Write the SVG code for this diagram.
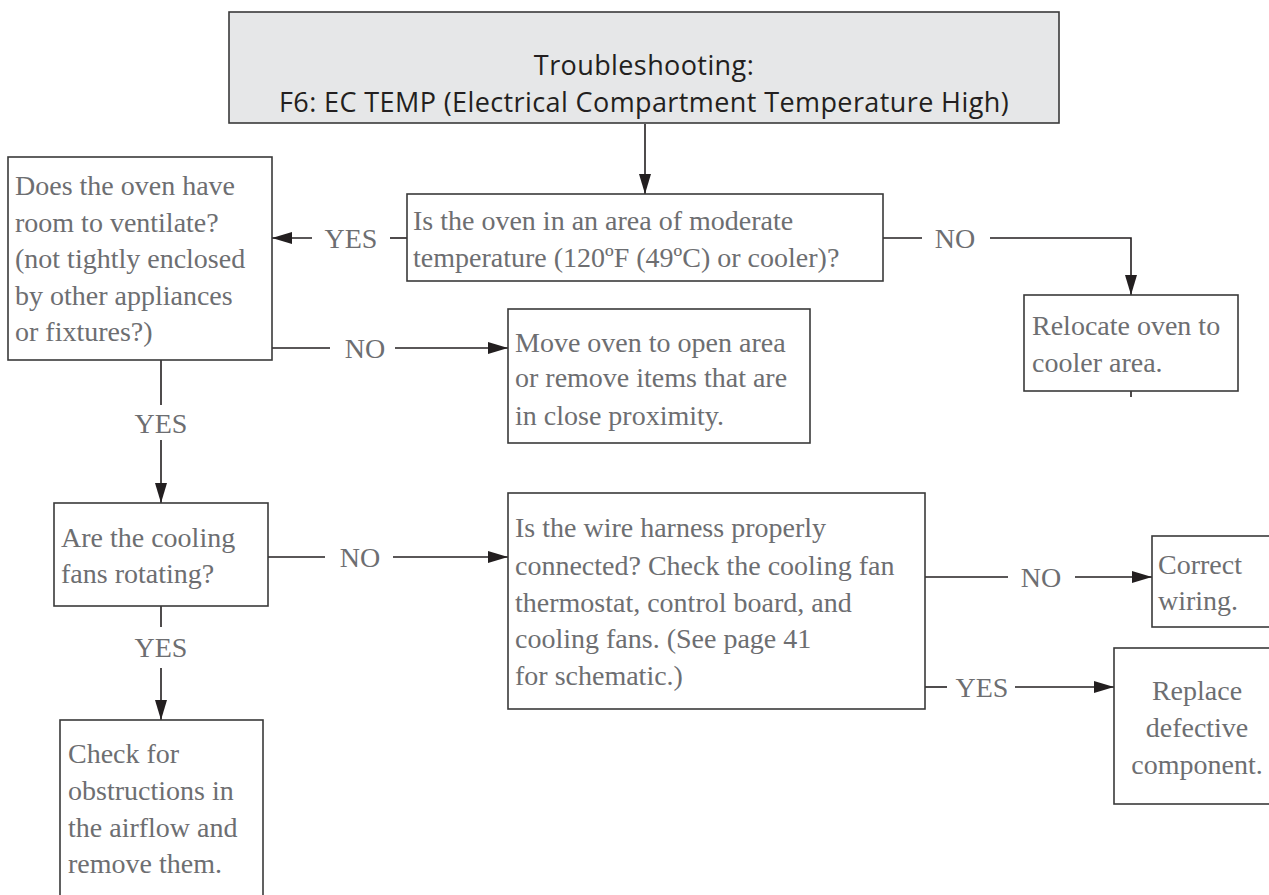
<svg xmlns="http://www.w3.org/2000/svg" width="1269" height="895" viewBox="0 0 1269 895">
<defs>
<marker id="arr" markerUnits="userSpaceOnUse" markerWidth="22" markerHeight="14" refX="20" refY="6" orient="auto">
<path d="M0,0 L20,6 L0,12 z" fill="#231f20"/>
</marker>
<style>
.box{fill:#fff;stroke:#3a3a3a;stroke-width:1.6}
.title{fill:#e6e7e8;stroke:#3a3a3a;stroke-width:1.6}
.tt{font-family:"Open Sans","Liberation Sans",sans-serif;font-size:27px;letter-spacing:0.4px;fill:#231f20;text-anchor:middle}
.t{font-family:"Liberation Serif",serif;font-size:28px;fill:#6d6e71}
.c{text-anchor:middle}
.ln{fill:none;stroke:#231f20;stroke-width:1.6}
.lb{font-family:"Liberation Serif",serif;font-size:28px;fill:#6d6e71;text-anchor:middle}
</style>
</defs>
<rect width="1269" height="895" fill="#fff"/>
<g id="connectors">
<line class="ln" x1="645" y1="124" x2="645" y2="194" marker-end="url(#arr)"/>
<line class="ln" x1="407" y1="238" x2="390" y2="238"/>
<line class="ln" x1="312" y1="238" x2="272" y2="238" marker-end="url(#arr)"/>
<text class="lb" x="351" y="248">YES</text>
<line class="ln" x1="883" y1="238" x2="922" y2="238"/>
<polyline class="ln" points="990,238 1131,238 1131,295" marker-end="url(#arr)"/>
<text class="lb" x="955" y="248">NO</text>
<line class="ln" x1="1131" y1="391" x2="1131" y2="397"/>
<line class="ln" x1="272" y1="348" x2="330" y2="348"/>
<line class="ln" x1="395" y1="348" x2="508" y2="348" marker-end="url(#arr)"/>
<text class="lb" x="365" y="358">NO</text>
<line class="ln" x1="161" y1="360" x2="161" y2="405"/>
<text class="lb" x="161" y="433">YES</text>
<line class="ln" x1="161" y1="440" x2="161" y2="503" marker-end="url(#arr)"/>
<line class="ln" x1="268" y1="557" x2="325" y2="557"/>
<line class="ln" x1="393" y1="557" x2="508" y2="557" marker-end="url(#arr)"/>
<text class="lb" x="360" y="567">NO</text>
<line class="ln" x1="161" y1="606" x2="161" y2="627"/>
<text class="lb" x="161" y="657">YES</text>
<line class="ln" x1="161" y1="668" x2="161" y2="720" marker-end="url(#arr)"/>
<line class="ln" x1="925" y1="577" x2="1008" y2="577"/>
<line class="ln" x1="1075" y1="577" x2="1152" y2="577" marker-end="url(#arr)"/>
<text class="lb" x="1041" y="587">NO</text>
<line class="ln" x1="925" y1="687" x2="947" y2="687"/>
<line class="ln" x1="1015" y1="687" x2="1114" y2="687" marker-end="url(#arr)"/>
<text class="lb" x="982" y="697">YES</text>
</g>
<g id="title">
<rect class="title" x="229" y="12" width="830" height="111"/>
<text class="tt" x="644" y="75">Troubleshooting:</text>
<text class="tt" x="644" y="112">F6: EC TEMP (Electrical Compartment Temperature High)</text>
</g>
<g id="q-moderate">
<rect class="box" x="407" y="194" width="476" height="87"/>
<text class="t" x="413" y="230">Is the oven in an area of moderate</text>
<text class="t" x="413" y="267">temperature (120ºF (49ºC) or cooler)?</text>
</g>
<g id="q-ventilate">
<rect class="box" x="8" y="157" width="264" height="203"/>
<text class="t" x="15" y="195">Does the oven have</text>
<text class="t" x="15" y="232">room to ventilate?</text>
<text class="t" x="15" y="268">(not tightly enclosed</text>
<text class="t" x="15" y="305">by other appliances</text>
<text class="t" x="15" y="341">or fixtures?)</text>
</g>
<g id="relocate">
<rect class="box" x="1024" y="295" width="214" height="96"/>
<text class="t" x="1032" y="335">Relocate oven to</text>
<text class="t" x="1032" y="372">cooler area.</text>
</g>
<g id="move">
<rect class="box" x="508" y="309" width="302" height="134"/>
<text class="t" x="515" y="352">Move oven to open area</text>
<text class="t" x="515" y="387">or remove items that are</text>
<text class="t" x="515" y="425">in close proximity.</text>
</g>
<g id="q-fans">
<rect class="box" x="54" y="503" width="214" height="103"/>
<text class="t" x="61" y="547">Are the cooling</text>
<text class="t" x="61" y="583">fans rotating?</text>
</g>
<g id="q-harness">
<rect class="box" x="508" y="493" width="417" height="216"/>
<text class="t" x="515" y="537">Is the wire harness properly</text>
<text class="t" x="515" y="575">connected? Check the cooling fan</text>
<text class="t" x="515" y="612">thermostat, control board, and</text>
<text class="t" x="515" y="648">cooling fans. (See page 41</text>
<text class="t" x="515" y="685">for schematic.)</text>
</g>
<g id="correct">
<rect class="box" x="1152" y="536" width="130" height="91"/>
<text class="t" x="1158" y="574">Correct</text>
<text class="t" x="1158" y="610">wiring.</text>
</g>
<g id="replace">
<rect class="box" x="1114" y="648" width="170" height="156"/>
<text class="t c" x="1197" y="700">Replace</text>
<text class="t c" x="1197" y="737">defective</text>
<text class="t c" x="1197" y="774">component.</text>
</g>
<g id="check">
<rect class="box" x="60" y="720" width="203" height="190"/>
<text class="t" x="68" y="763">Check for</text>
<text class="t" x="68" y="800">obstructions in</text>
<text class="t" x="68" y="837">the airflow and</text>
<text class="t" x="68" y="873">remove them.</text>
</g>
</svg>
